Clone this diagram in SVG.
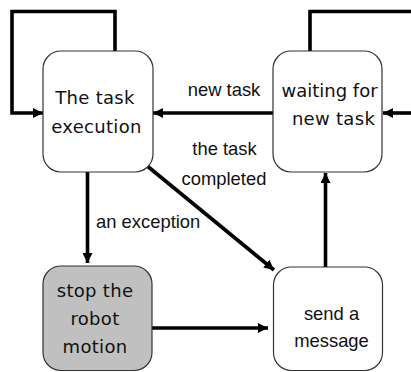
<svg xmlns="http://www.w3.org/2000/svg" width="411" height="372" viewBox="0 0 411 372">
  <style>
    .box { fill: #ffffff; stroke: #333333; stroke-width: 1.2; }
    .box.gray { fill: #c0c0c0; }
    .node { font-family: "DejaVu Sans", Verdana, sans-serif; font-size: 18px; letter-spacing: 0.3px; fill: #111111; text-anchor: middle; }
    .node.tight { letter-spacing: 0; }
    .node.arial { font-family: "Liberation Sans", Arial, sans-serif; font-size: 18.4px; letter-spacing: 0; }
    .label { font-family: "Liberation Sans", Arial, sans-serif; font-size: 18.4px; fill: #111111; }
    .edge { fill: none; stroke: #000000; stroke-width: 3.6; stroke-linejoin: miter; }
    .edge.arrow { marker-end: url(#head); }
  </style>
  <defs>
    <marker id="head" markerUnits="userSpaceOnUse" markerWidth="10" markerHeight="10" viewBox="0 0 10 10" refX="10" refY="5" orient="auto">
      <path d="M0,0 L10,5 L0,10 z" fill="#000000"/>
    </marker>
  </defs>

  <!-- connectors -->
  <g id="connectors">
    <!-- self loop on task execution -->
    <path class="edge arrow" d="M115,51 V11.5 H12 V113 H43"/>
    <!-- self loop on waiting for new task -->
    <path class="edge" d="M310,51 V11.5 H411"/>
    <path class="edge arrow" d="M411,113 H383"/>
    <!-- new task -->
    <path class="edge arrow" d="M273,113 H153"/>
    <!-- the task completed -->
    <path class="edge arrow" d="M146,165 L274,270"/>
    <!-- an exception -->
    <path class="edge arrow" d="M87.5,172 V263"/>
    <!-- stop -> send -->
    <path class="edge arrow" d="M152,328 H268"/>
    <!-- send -> waiting -->
    <path class="edge arrow" d="M325.5,267 V173"/>
  </g>

  <g id="labels">
    <text class="label" x="224" y="96" text-anchor="middle">new task</text>
    <text class="label" x="224.5" y="155" text-anchor="middle">the task</text>
    <text class="label" x="224" y="185" text-anchor="middle">completed</text>
    <text class="label" x="96" y="228">an exception</text>
  </g>

  <g id="task-execution">
    <rect class="box" x="43" y="51" width="110" height="121" rx="18"/>
    <text class="node" x="95" y="104">The task</text>
    <text class="node" x="96.5" y="133">execution</text>
  </g>

  <g id="waiting">
    <rect class="box" x="273" y="51" width="109" height="121" rx="18"/>
    <text class="node tight" x="329.5" y="96.5">waiting for</text>
    <text class="node" x="333.5" y="125">new task</text>
  </g>

  <g id="stop-motion">
    <rect class="box gray" x="43" y="266" width="109" height="104.5" rx="18"/>
    <text class="node" x="95" y="297">stop the</text>
    <text class="node" x="95" y="325">robot</text>
    <text class="node" x="95" y="353">motion</text>
  </g>

  <g id="send-message">
    <rect class="box" x="273.5" y="267" width="109" height="103.5" rx="18"/>
    <text class="node arial" x="331.5" y="319.5">send a</text>
    <text class="node arial" x="331.5" y="347">message</text>
  </g>
</svg>
